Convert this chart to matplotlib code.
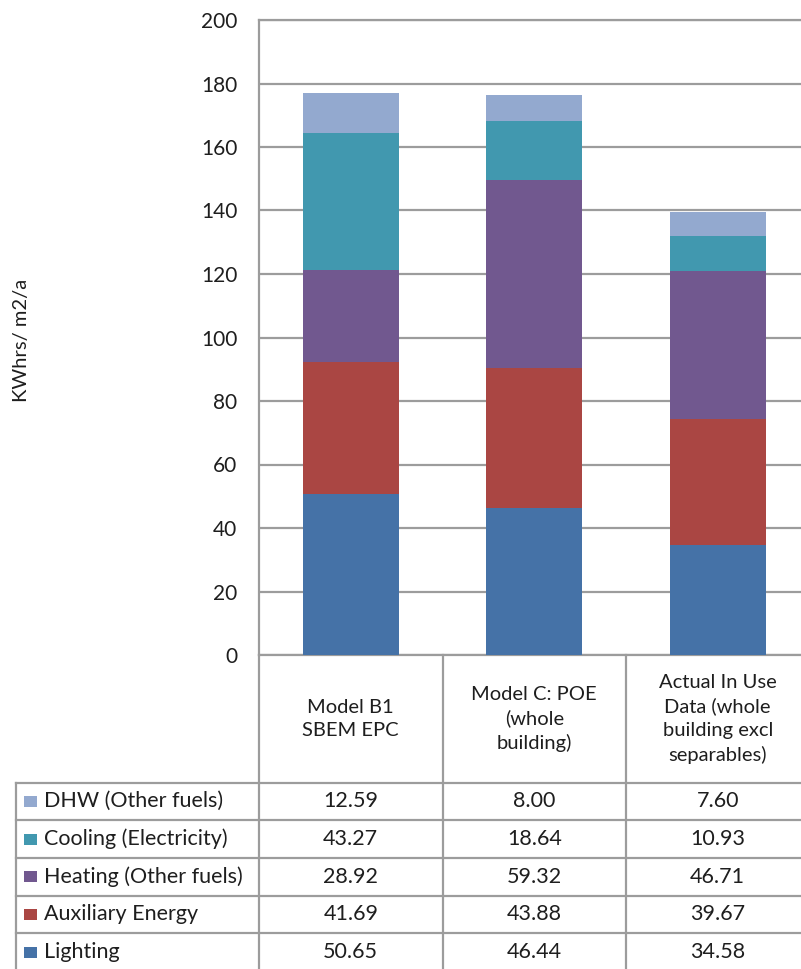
import matplotlib
matplotlib.use("Agg")
import matplotlib.pyplot as plt
from matplotlib.patches import Rectangle
from matplotlib.lines import Line2D
from matplotlib.transforms import blended_transform_factory

# ---- data -------------------------------------------------------------
categories = [
    "Model B1\nSBEM EPC",
    "Model C: POE\n(whole\nbuilding)",
    "Actual In Use\nData (whole\nbuilding excl\nseparables)",
]
series_names = ["Lighting", "Auxiliary Energy", "Heating (Other fuels)",
                "Cooling (Electricity)", "DHW (Other fuels)"]
lighting = [50.65, 46.44, 34.58]
auxiliary = [41.69, 43.88, 39.67]
heating = [28.92, 59.32, 46.71]
cooling = [43.27, 18.64, 10.93]
dhw = [12.59, 8.00, 7.60]
series_values = [lighting, auxiliary, heating, cooling, dhw]
series_colors = ["#4572A7", "#AA4643", "#71588F", "#4198AF", "#93A9CF"]
yticks = [0, 20, 40, 60, 80, 100, 120, 140, 160, 180, 200]
ylabel = "KWhrs/ m2/a"

# ---- style ------------------------------------------------------------
plt.rcParams["font.family"] = ["Lato", "DejaVu Sans"]
TEXT = "#1e1e1e"
GRID = "#9c9c9c"
LW = 1.6

W, H = 801, 969
fig = plt.figure(figsize=(W / 100, H / 100), dpi=100)
fig.patch.set_facecolor("white")


def fy(p):
    """figure-fraction y from a pixel row measured from the top"""
    return 1 - p / H


def fx(p):
    return p / W


# plot area (the right column runs slightly past the figure edge)
plot_left, plot_right, plot_top, plot_bottom = 259, 809.5, 20, 655
ax = fig.add_axes([fx(plot_left), fy(plot_bottom),
                   (plot_right - plot_left) / W, (plot_bottom - plot_top) / H])

x = list(range(len(categories)))
bottom = [0.0] * len(categories)
for vals, col in zip(series_values, series_colors):
    ax.bar(x, vals, width=0.525, bottom=bottom, color=col, linewidth=0, zorder=3)
    bottom = [b + v for b, v in zip(bottom, vals)]

ax.set_xlim(-0.5, len(categories) - 0.5)
ax.set_ylim(yticks[0], yticks[-1])
ax.set_yticks(yticks)
ax.set_xticks([])
ax.yaxis.grid(True, color=GRID, linewidth=LW)
ax.set_axisbelow(True)
ax.tick_params(axis="y", length=0, pad=15.5, labelsize=15, labelcolor=TEXT)
for name, sp in ax.spines.items():
    sp.set_color(GRID)
    sp.set_linewidth(LW)
ax.spines["right"].set_visible(False)

fig.text(fx(22), fy(340), ylabel, rotation=90, ha="center", va="center",
         fontsize=14.5, color=TEXT)

# ---- data table under the plot ----------------------------------------
tr = blended_transform_factory(ax.transData, fig.transFigure)
header_bottom = 782.5
row_h = 37.7
n_rows = len(series_names)
row_edges = [header_bottom + i * row_h for i in range(n_rows + 1)]
table_left = 16

# column separators, shared by header and data rows
for edge in [i - 0.5 for i in range(len(categories) + 1)]:
    fig.add_artist(Line2D([edge, edge], [fy(plot_bottom), fy(row_edges[-1])],
                          transform=tr, color=GRID, lw=LW, clip_on=False))
# left border of the label column
fig.add_artist(Line2D([fx(table_left)] * 2, [fy(header_bottom), fy(row_edges[-1])],
                      transform=fig.transFigure, color=GRID, lw=LW))
# row separators
for e in row_edges:
    fig.add_artist(Line2D([fx(table_left), 1.02], [fy(e), fy(e)],
                          transform=fig.transFigure, color=GRID, lw=LW))

# column headers
for i, cat in enumerate(categories):
    fig.text(i, fy((plot_bottom + header_bottom) / 2), cat, transform=tr,
             ha="center", va="center", fontsize=14.5, color=TEXT,
             linespacing=1.45)

# rows: topmost stack segment first
order = list(range(n_rows))[::-1]
for r, si in enumerate(order):
    yc = (row_edges[r] + row_edges[r + 1]) / 2
    key = Rectangle((fx(24), fy(yc + 5.5)), 13 / W, 11 / H,
                    transform=fig.transFigure, facecolor=series_colors[si],
                    edgecolor="none")
    fig.add_artist(key)
    fig.text(fx(44), fy(yc), series_names[si], ha="left", va="center",
             fontsize=15.5, color=TEXT)
    for i, v in enumerate(series_values[si]):
        fig.text(i, fy(yc), f"{v:.2f}", transform=tr, ha="center",
                 va="center", fontsize=15.5, color=TEXT)

fig.savefig("out.png", dpi=100, facecolor="white")
